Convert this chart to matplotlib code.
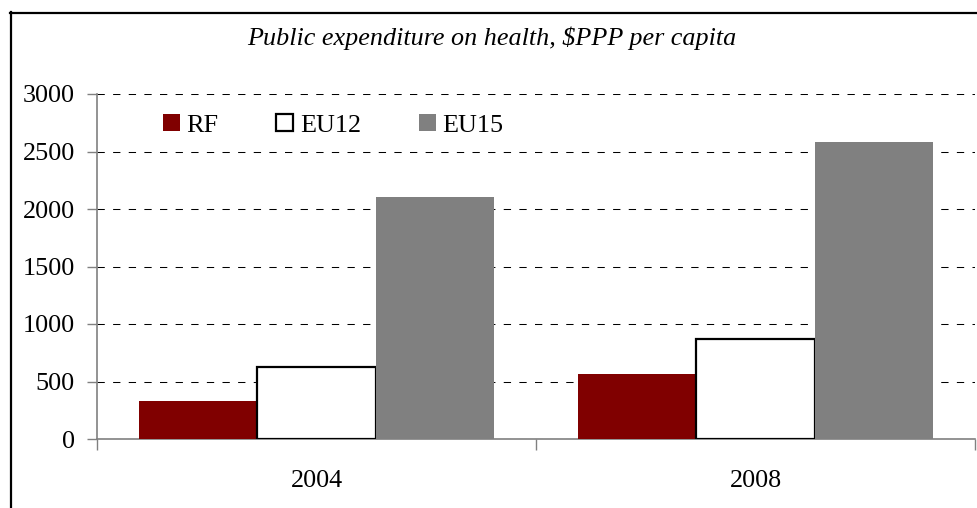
import matplotlib.pyplot as plt
import numpy as np
from matplotlib.lines import Line2D

plt.rcParams['font.family'] = ['Liberation Serif', 'DejaVu Serif']

# Data
years = ['2004', '2008']
series_names = ['RF', 'EU12', 'EU15']
rf_values = [330, 565]
eu12_values = [626, 870]
eu15_values = [2104, 2583]
y_ticks = [0, 500, 1000, 1500, 2000, 2500, 3000]

STYLE = {
    'rf': '#800000',
    'eu12': '#ffffff',
    'eu15': '#808080',
    'axis': '#808080',
    'grid': '#000000',
}
FS = 18.8

W, H = 978, 508
fig = plt.figure(figsize=(W / 100, H / 100), dpi=100)
ax = fig.add_axes([97 / W, 1 - 439 / H, (975 - 97) / W, (439 - 94) / H])

x = np.arange(len(years))
bw = 0.27
ax.bar(x - bw, rf_values, bw, color=STYLE['rf'], label=series_names[0], zorder=3)
ax.bar(x, eu12_values, bw, color=STYLE['eu12'], edgecolor='black', linewidth=1.6,
       label=series_names[1], zorder=3)
ax.bar(x + bw, eu15_values, bw, color=STYLE['eu15'], label=series_names[2], zorder=3)

ax.set_xlim(-0.5, len(years) - 0.5)
ax.set_ylim(0, 3000)
ax.set_yticks(y_ticks)
ax.tick_params(axis='y', length=7, width=1, color=STYLE['axis'], pad=9, labelsize=FS)

# category labels at centres, tick marks at boundaries
ax.set_xticks(x)
ax.set_xticklabels(years)
ax.tick_params(axis='x', which='major', length=0, pad=22, labelsize=FS)
ax.set_xticks(np.arange(len(years) + 1) - 0.5, minor=True)
ax.tick_params(axis='x', which='minor', length=8, width=1, color=STYLE['axis'])

for s in ['top', 'right']:
    ax.spines[s].set_visible(False)
for s in ['left', 'bottom']:
    ax.spines[s].set_color(STYLE['axis'])
    ax.spines[s].set_linewidth(1.2)

ax.yaxis.grid(True, color=STYLE['grid'], linestyle=(0, (7, 8)), linewidth=0.75, zorder=0)
ax.set_axisbelow(True)

leg = ax.legend(loc='center left', bbox_to_anchor=(0.075, 0.91), ncol=3, frameon=False,
                fontsize=FS, borderpad=0, borderaxespad=0, handlelength=0.66,
                handleheight=0.66, handletextpad=0.25, columnspacing=2.2)

fig.text(0.503, 1 - 38 / H, 'Public expenditure on health, $PPP per capita',
         ha='center', va='center', fontsize=FS, style='italic')

# outer chart border (only left and top visible in the crop)
fig.add_artist(Line2D([10.5 / W, 10.5 / W], [0, 1 - 12 / H], color='black', lw=1.6))
fig.add_artist(Line2D([10 / W, 1], [1 - 12.5 / H, 1 - 12.5 / H], color='black', lw=1.6))

fig.savefig('out.png', dpi=100)
